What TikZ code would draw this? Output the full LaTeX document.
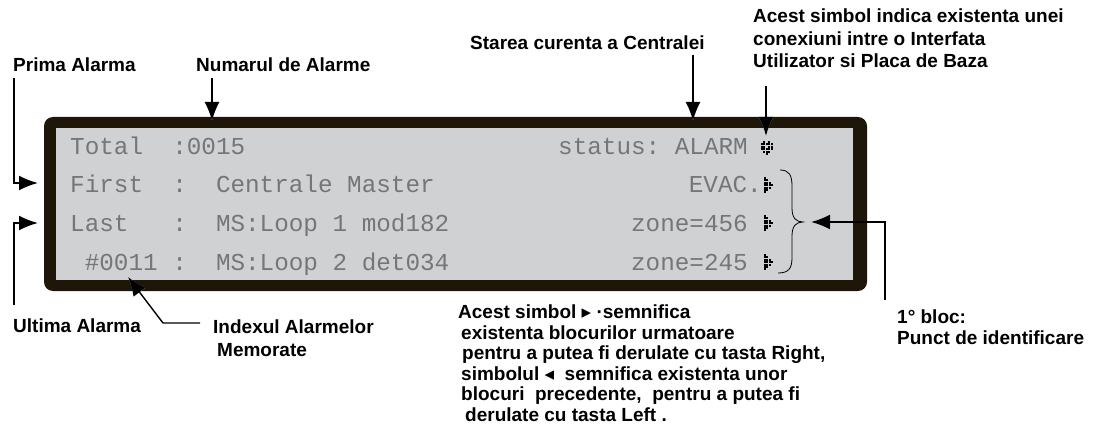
\documentclass[tikz,border=0pt]{standalone}
\usepackage{fontspec}
\setmainfont{Liberation Sans}
\setmonofont{Liberation Mono}
\newfontfamily\symfont{DejaVu Sans}
\usetikzlibrary{arrows.meta,calc}
\definecolor{frame1}{RGB}{30,22,8}
\definecolor{lcd1}{RGB}{208,209,211}
\definecolor{lcdtext}{RGB}{118,118,118}

\tikzset{
  pics/lcdarrow/.style={code={
    \foreach \c/\r in {0/0,0/1,0/2,0/3,0/4,0/5,0/6,1/1,1/2,1/3,1/4,1/5,2/2,2/3,2/4,3/3}
      \fill (\c*2.4,\r*2.4) rectangle ++(2,2);
  }},
  pics/lcdlink/.style={code={
    \foreach \c/\r in {1/0,3/0,0/1,1/1,2/1,3/1,4/1,0/2,1/2,3/2,4/2,0/3,1/3,2/3,3/3,4/3,1/4,2/4,3/4,2/5}
      \fill (\c*2.4,\r*2.4) rectangle ++(2,2);
  }}
}

\begin{document}
\begin{tikzpicture}[x=1pt,y=-1pt,>=Latex,
    lbl/.style={font=\bfseries\fontsize{19}{21}\selectfont,inner sep=0pt,align=left},
    lcd/.style={font=\ttfamily\fontsize{24.3}{26}\selectfont,text=lcdtext,inner sep=0pt},
    arr/.style={line width=1.8pt,-{Latex[length=19pt,width=15pt]},
      preaction={draw=white,line width=1.8pt,-{Latex[length=19pt,width=15pt,line width=3pt]}}}]

    \useasboundingbox (0,0) rectangle (1093,425);

    % display
    \path[fill=frame1,rounded corners=9pt] (44,117) rectangle (867,291);
    \fill[lcd1] (56,128) rectangle (853,280);

    \node[lcd,anchor=base west] (r1) at (70,155) {Total~~:0015};
    \node[lcd,anchor=base west] (r2) at (70,193) {First~~:~~Centrale Master};
    \node[lcd,anchor=base west] (r3) at (70,231) {Last~~~:~~MS:Loop 1 mod182};
    \node[lcd,anchor=base west] (r4) at (70,270) {~\#0011~:~~MS:Loop 2 det034};
    \node[lcd,anchor=base east] (s1) at (748,155) {status: ALARM};
    \node[lcd,anchor=base east] (s2) at (762,193) {EVAC.};
    \node[lcd,anchor=base east] (s3) at (748,231) {zone=456};
    \node[lcd,anchor=base east] (s4) at (748,270) {zone=245};

    \pic at (761,141) {lcdlink};
    \pic at (764,177) {lcdarrow};
    \pic at (764,215) {lcdarrow};
    \pic at (764,254) {lcdarrow};

    % brace
    \draw[line width=0.8pt] (780,170) .. controls (789,170) and (792,175) .. (792,186) -- (792,208)
      .. controls (792,218) and (796,222) .. (803,222) .. controls (796,222) and (792,226) .. (792,236)
      -- (792,258) .. controls (792,269) and (788,273) .. (778,273);

    % labels
    \node[lbl,anchor=base west] (prima) at (13,72) {Prima Alarma};
    \node[lbl,anchor=base west] (numar) at (196,72) {Numarul de Alarme};
    \node[lbl,anchor=base west] (starea) at (470,50) {Starea curenta a Centralei};
    \node[lbl,anchor=north west,font=\bfseries\fontsize{19}{22.5}\selectfont] (acest) at (753,9)
      {Acest simbol indica existenta unei\\conexiuni intre o Interfata\\Utilizator si Placa de Baza};
    \node[lbl,anchor=base west] (ultima) at (13,332) {Ultima Alarma};
    \node[lbl,anchor=north west,font=\bfseries\fontsize{19}{23}\selectfont] (index) at (213,320)
      {Indexul Alarmelor\\\hspace{4pt}Memorate};
    \node[lbl,anchor=north west] (bloc) at (897,310) {1° bloc:\\Punct de identificare};
    \node[lbl,anchor=north west,font=\bfseries\fontsize{19}{20.5}\selectfont] (expl) at (458,305)
      {Acest simbol {\symfont ▸} ·semnifica\\
       \hspace{3pt}existenta blocurilor urmatoare\\
       \hspace{4pt}pentru a putea fi derulate cu tasta Right,\\
       \hspace{3pt}simbolul {\symfont ◂}~~semnifica existenta unor\\
       \hspace{3pt}blocuri~~precedente,~~pentru a putea fi\\
       \hspace{7pt}derulate cu tasta Left .};

    \coordinate (tipNum) at (212,121);
    \coordinate (tipSta) at (693,121);
    \coordinate (tipSym) at (766,136);
    \coordinate (tipPrima) at (38,183);
    \coordinate (tipLast) at (38,223);
    \coordinate (tipIdx) at (128,277);
    \coordinate (tipBloc) at (811,222);

    \draw[arr] ($(tipNum |- numar.south)+(0,6)$) -- (tipNum);
    \draw[arr] ($(tipSta |- starea.south)+(0,5)$) -- (tipSta);
    \draw[arr] ($(tipSym |- acest.south)+(0,18)$) -- (tipSym);
    \draw[arr] ($(prima.south west)+(1,6)$) |- (tipPrima);
    \draw[arr] ($(ultima.north west)+(1,-13)$) |- (tipLast);
    \draw[arr,line width=1.4pt] ($(index.north west)+(-13,3)$) -- ++(-37,0) -- (tipIdx);
    \draw[arr] ($(bloc.north west)+(-12,-10)$) |- (tipBloc);

  \end{tikzpicture}
\end{document}
